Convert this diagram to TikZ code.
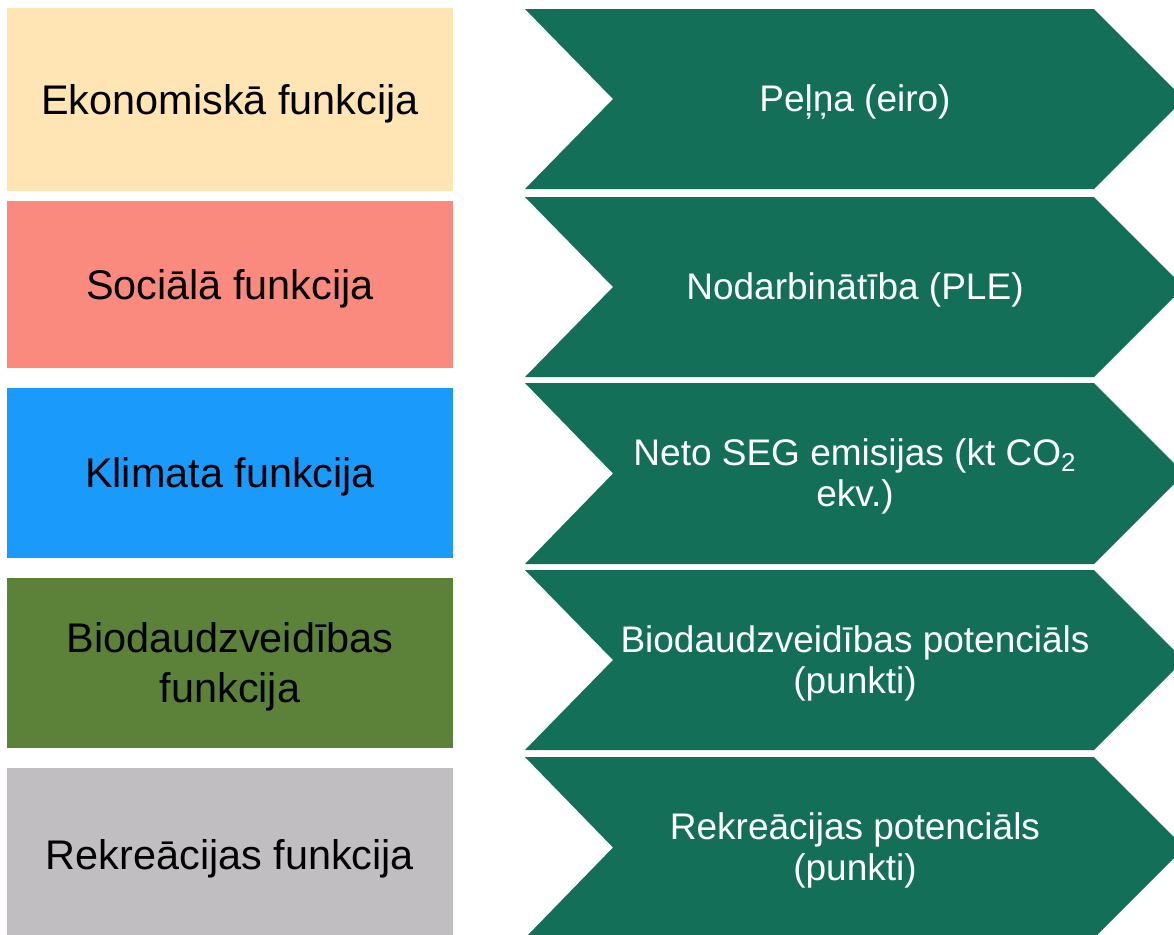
\documentclass[tikz,border=0pt]{standalone}
\usepackage{fontspec}
\setmainfont{Liberation Sans}
\usepackage{tikz}

\definecolor{ekon}{RGB}{255,229,180}
\definecolor{soc}{RGB}{250,138,126}
\definecolor{klim}{RGB}{26,155,252}
\definecolor{bio}{RGB}{91,130,56}
\definecolor{rekr}{RGB}{193,190,194}
\definecolor{chev}{RGB}{20,111,89}

\tikzstyle{functext}=[%
	align = center,
	inner sep = 0pt,
	text = black,
	font = \fontsize{20.7}{25}\selectfont
]
\tikzstyle{indtext}=[%
	align = center,
	inner sep = 0pt,
	text = white,
	font = \fontsize{18.5}{20.5}\selectfont
]

\begin{document}
\begin{tikzpicture}[x=0.5pt, y=-0.5pt]
	\def\notch{88}

	% Background, frame
	\useasboundingbox (0,0) rectangle (1174,934);
	\fill[white] (0,0) rectangle (1174,934);
	\clip (0,0) rectangle (1174,934);

	% Functions
	\foreach \n/\ya/\yb/\col/\txt in {1/8/191/ekon/{Ekonomiskā funkcija}, 2/201/368/soc/{Sociālā funkcija}, 3/388/558/klim/{Klimata funkcija}, 4/578/748/bio/{Biodaudzveidības\\funkcija}, 5/768/942/rekr/{Rekreācijas funkcija}} {
		\fill[\col] (7,\ya) rectangle (453,\yb);
		\node[functext] (func\n) at (230,{(\ya+\yb)/2+4}) {\txt};
	}

	% Indicators
	\foreach \n/\ya/\yb/\txt in {1/9/189/{Peļņa (eiro)}, 2/197/377/{Nodarbinātība (PLE)}, 3/383/564/{Neto SEG emisijas (kt CO\textsubscript{2}\\ekv.)}, 4/570/750/{Biodaudzveidības potenciāls\\(punkti)}, 5/757/938/{Rekreācijas potenciāls\\(punkti)}} {
		\fill[chev] (525,\ya) -- (1094,\ya) -- ({1094+(\yb-\ya)/2},{(\ya+\yb)/2}) -- (1094,\yb) -- (525,\yb) -- ({525+\notch},{(\ya+\yb)/2}) -- cycle;
		\node[indtext] (ind\n) at (855,{(\ya+\yb)/2+3}) {\txt};
	}

\end{tikzpicture}
\end{document}
